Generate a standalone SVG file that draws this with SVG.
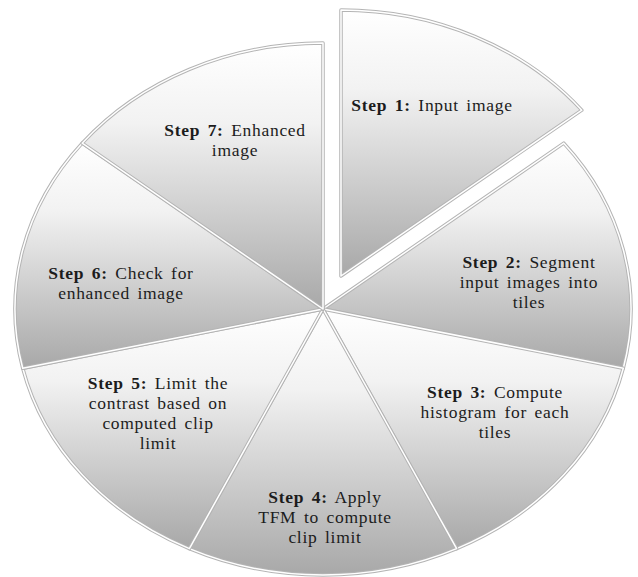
<svg xmlns="http://www.w3.org/2000/svg" width="638" height="577" viewBox="0 0 638 577">
<style>
.sl{stroke:#b4b4b4;stroke-width:3.5;stroke-linejoin:round}
.ed{fill:none;stroke:#ffffff;stroke-width:1.5;stroke-linejoin:round}
text{font-family:"Liberation Serif","Times New Roman",serif;font-size:17.5px;fill:#1c1c1c;text-anchor:middle;word-spacing:2.5px;letter-spacing:0.7px}
.b{font-weight:bold}
</style>
<defs>
<linearGradient id="g" x1="0" y1="0" x2="0" y2="1">
<stop offset="0" stop-color="#ffffff"/>
<stop offset="0.3" stop-color="#f2f2f2"/>
<stop offset="1" stop-color="#a8a8a8"/>
</linearGradient>
</defs>
<rect width="638" height="577" fill="#ffffff"/>
<g id="step1" transform="translate(18,-33)">
<path class="sl" fill="url(#g)" d="M323,309 L323,43 A308,266 0 0 1 563.8,143.15 Z"/>
<path class="ed" d="M323,309 L323,43 A308,266 0 0 1 563.8,143.15 Z"/>
<text x="414" y="144"><tspan class="b">Step 1:</tspan> Input image</text>
</g>
<g id="step2">
<path class="sl" fill="url(#g)" d="M323,309 L563.8,143.15 A308,266 0 0 1 623.28,368.19 Z"/>
<path class="ed" d="M323,309 L563.8,143.15 A308,266 0 0 1 623.28,368.19 Z"/>
<text x="529" y="268"><tspan class="b">Step 2:</tspan> Segment<tspan x="529" dy="20">input images into</tspan><tspan x="529" dy="20">tiles</tspan></text>
</g>
<g id="step3">
<path class="sl" fill="url(#g)" d="M323,309 L623.28,368.19 A308,266 0 0 1 456.64,548.66 Z"/>
<path class="ed" d="M323,309 L623.28,368.19 A308,266 0 0 1 456.64,548.66 Z"/>
<text x="495" y="398"><tspan class="b">Step 3:</tspan> Compute<tspan x="495" dy="20">histogram for each</tspan><tspan x="495" dy="20">tiles</tspan></text>
</g>
<g id="step4">
<path class="sl" fill="url(#g)" d="M323,309 L456.64,548.66 A308,266 0 0 1 189.36,548.66 Z"/>
<path class="ed" d="M323,309 L456.64,548.66 A308,266 0 0 1 189.36,548.66 Z"/>
<text x="325" y="503"><tspan class="b">Step 4:</tspan> Apply<tspan x="325" dy="20">TFM to compute</tspan><tspan x="325" dy="20">clip limit</tspan></text>
</g>
<g id="step5">
<path class="sl" fill="url(#g)" d="M323,309 L189.36,548.66 A308,266 0 0 1 22.72,368.19 Z"/>
<path class="ed" d="M323,309 L189.36,548.66 A308,266 0 0 1 22.72,368.19 Z"/>
<text x="158" y="389"><tspan class="b">Step 5:</tspan> Limit the<tspan x="158" dy="20">contrast based on</tspan><tspan x="158" dy="20">computed clip</tspan><tspan x="158" dy="20">limit</tspan></text>
</g>
<g id="step6">
<path class="sl" fill="url(#g)" d="M323,309 L22.72,368.19 A308,266 0 0 1 82.2,143.15 Z"/>
<path class="ed" d="M323,309 L22.72,368.19 A308,266 0 0 1 82.2,143.15 Z"/>
<text x="121" y="279"><tspan class="b">Step 6:</tspan> Check for<tspan x="121" dy="20">enhanced image</tspan></text>
</g>
<g id="step7">
<path class="sl" fill="url(#g)" d="M323,309 L82.2,143.15 A308,266 0 0 1 323,43 Z"/>
<path class="ed" d="M323,309 L82.2,143.15 A308,266 0 0 1 323,43 Z"/>
<text x="235" y="136"><tspan class="b">Step 7:</tspan> Enhanced<tspan x="235" dy="20">image</tspan></text>
</g>
</svg>
